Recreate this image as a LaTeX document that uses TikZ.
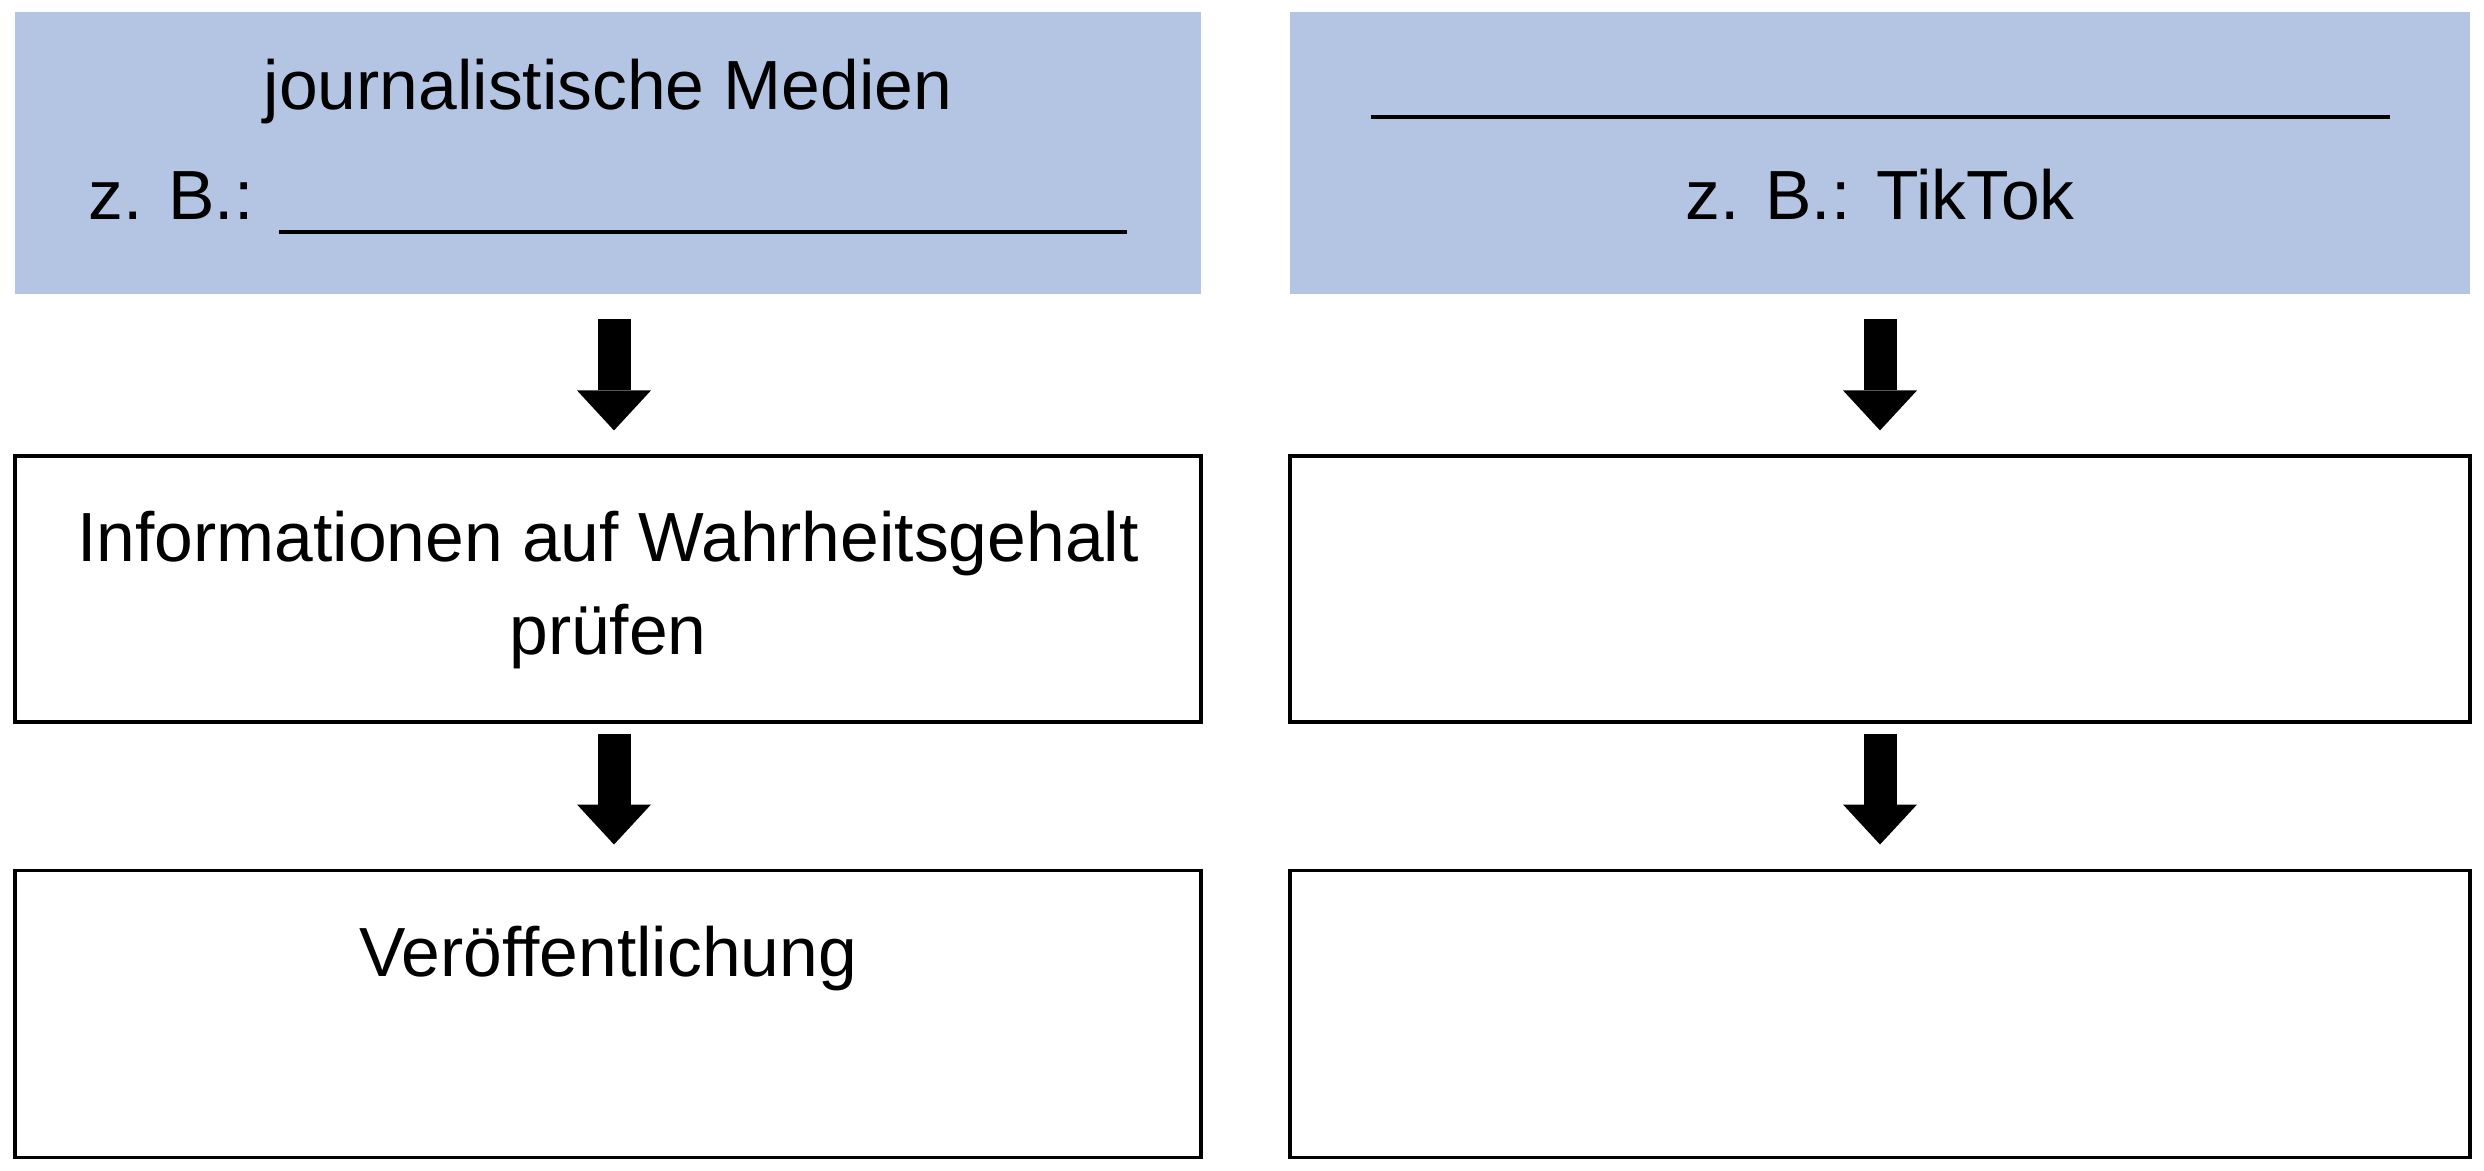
\documentclass[tikz,border=0pt]{standalone}
\usepackage{fontspec}
\setmainfont{Liberation Sans}
\usetikzlibrary{arrows.meta,positioning}
\definecolor{headblue}{RGB}{180,197,227}
\tikzset{
  every node/.append style={font=\fontsize{17.4pt}{23.4pt}\selectfont},
  head/.style={fill=headblue, minimum height=70.5pt, inner sep=0pt},
  stepbox/.style={draw, line width=0.8pt, minimum height=#1, inner sep=0pt},
  col/.style={minimum width=#1},
  line/.style={anchor=base, inner sep=0pt},
  flow/.style={line width=8.25pt, -{Triangle[width=18.5pt, length=10pt, line width=0pt]},
    shorten >=6pt}
}
\newcommand{\blank}[2]{\rule[#1]{#2}{1pt}}

\begin{document}
\begin{tikzpicture}
  \useasboundingbox (0,0) rectangle (621pt,-292.5pt);

  % left column
  \node[head, col=296.5pt] (hl) at (152pt,-38.25pt) {};
  \node[stepbox=66.5pt, col=296.5pt] (ml) at (152pt,-147.25pt) {};
  \node[stepbox=71.75pt, col=296.5pt] (bl) at (152pt,-253.4pt) {};

  % right column
  \node[head, col=295pt] (hr) at (470pt,-38.25pt) {};
  \node[stepbox=66.5pt, col=295pt] (mr) at (470pt,-147.25pt) {};
  \node[stepbox=71.75pt, col=295pt] (br) at (470pt,-253.4pt) {};

  % texts
  \node[line] (hl1) at ([yshift=-24.5pt]hl.north) {journalistische Medien};
  \node[line] (hl2) at ([yshift=-52.1pt]hl.north) {z. B.: \blank{-3.5pt}{212pt}};
  \node[line] (hr1) at ([yshift=-24.5pt]hr.north) {\blank{-2.5pt}{254.75pt}};
  \node[line] (hr2) at ([yshift=-52.1pt]hr.north) {z. B.: TikTok};
  \node[line] (ml1) at ([yshift=-26.7pt]ml.north) {Informationen auf Wahrheitsgehalt};
  \node[line] (ml2) at ([yshift=-50pt]ml.north) {prüfen};
  \node[line] (bl1) at ([yshift=-27pt]bl.north) {Veröffentlichung};

  % arrows
  \draw[flow, shorten <=6pt] ([xshift=1.5pt]hl.south) -- ([xshift=1.5pt]ml.north);
  \draw[flow, shorten <=2.5pt] ([xshift=1.5pt]ml.south) -- ([xshift=1.5pt]bl.north);
  \draw[flow, shorten <=6pt] (hr) -- (mr);
  \draw[flow, shorten <=2.5pt] (mr) -- (br);
\end{tikzpicture}
\end{document}
